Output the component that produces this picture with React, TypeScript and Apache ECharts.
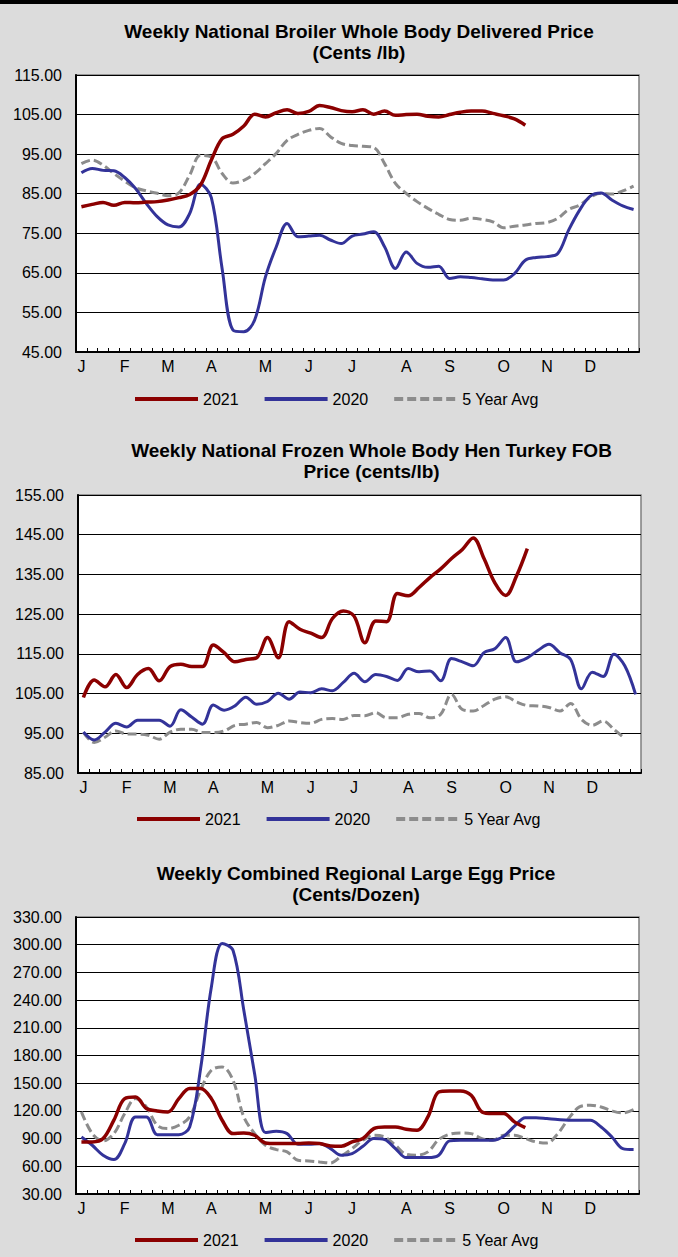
import React, { useEffect, useRef } from 'react';
import * as echarts from 'echarts';

// ---------- data ----------
const weeks: string[] = [
  'W1','W2','W3','W4','W5','W6','W7','W8','W9','W10','W11','W12','W13',
  'W14','W15','W16','W17','W18','W19','W20','W21','W22','W23','W24','W25','W26',
  'W27','W28','W29','W30','W31','W32','W33','W34','W35','W36','W37','W38','W39',
  'W40','W41','W42','W43','W44','W45','W46','W47','W48','W49','W50','W51','W52',
];
const monthLabels = ['J', 'F', 'M', 'A', 'M', 'J', 'J', 'A', 'S', 'O', 'N', 'D'];
const monthStartWeek = [0, 4, 8, 12, 17, 21, 25, 30, 34, 39, 43, 47];
const seriesNames = ['2021', '2020', '5 Year Avg'];

const broiler2021 = [81.7, 82.3, 82.8, 82.1, 82.8, 82.7, 82.9, 83.0, 83.4, 84.0, 84.8, 87.2, 93.5, 98.9, 100.0, 102.1, 105.1, 104.4, 105.5, 106.2, 105.3, 105.8, 107.3, 106.8, 106.0, 105.7, 106.2, 105.1, 105.9, 104.8, 105.0, 105.1, 104.6, 104.4, 105.0, 105.6, 105.9, 105.9, 105.3, 104.7, 103.9, 102.3];
const broiler2020 = [90.3, 91.4, 90.9, 90.8, 89.1, 86.3, 82.5, 79.2, 77.1, 76.6, 80.0, 87.4, 84.0, 66.0, 50.5, 50.1, 53.1, 64.0, 71.6, 77.5, 74.1, 74.3, 74.5, 73.3, 72.4, 74.3, 74.8, 75.4, 71.6, 66.1, 70.3, 67.4, 66.4, 66.7, 63.6, 64.0, 63.8, 63.5, 63.2, 63.2, 64.8, 68.2, 68.9, 69.1, 69.9, 75.8, 80.8, 84.4, 85.2, 83.4, 81.9, 81.0];
const broiler5yr = [92.6, 93.5, 92.2, 90.1, 88.2, 86.5, 85.7, 85.1, 84.5, 85.2, 89.7, 94.7, 94.3, 90.1, 87.7, 88.4, 90.1, 92.6, 95.2, 98.5, 100.0, 101.0, 101.5, 99.4, 97.7, 97.2, 97.0, 96.7, 92.6, 87.6, 85.1, 83.0, 81.3, 79.8, 78.5, 78.3, 78.8, 78.5, 77.9, 76.4, 76.8, 77.1, 77.5, 77.7, 78.8, 81.0, 82.1, 84.1, 85.1, 84.9, 85.7, 86.9];

const turkey2021 = [104.0, 108.4, 106.7, 109.8, 106.5, 109.8, 111.3, 108.2, 111.8, 112.4, 111.8, 111.8, 117.2, 115.3, 113.0, 113.6, 114.0, 119.1, 114.0, 123.1, 121.2, 120.2, 119.1, 123.9, 125.8, 124.5, 117.8, 123.3, 123.1, 130.2, 129.6, 131.7, 134.2, 136.4, 139.0, 141.3, 144.2, 139.0, 132.9, 129.7, 134.6, 141.5];
const turkey2020 = [95.3, 93.3, 95.3, 97.5, 96.6, 98.3, 98.3, 98.3, 96.8, 100.9, 99.1, 97.3, 102.1, 100.8, 101.9, 104.1, 102.3, 103.0, 105.1, 103.6, 105.4, 105.2, 106.2, 105.7, 107.8, 110.1, 108.0, 109.8, 109.3, 108.3, 111.3, 110.5, 110.7, 108.2, 113.8, 113.0, 112.0, 115.3, 116.3, 119.1, 113.0, 114.0, 115.9, 117.4, 115.3, 113.6, 106.2, 110.4, 109.3, 114.9, 112.0, 104.8];
const turkey5yr = [95.2, 92.7, 94.0, 95.6, 94.8, 94.8, 94.5, 93.5, 95.3, 96.0, 96.0, 95.2, 95.2, 95.6, 97.0, 97.3, 97.7, 96.4, 97.0, 98.1, 97.7, 97.5, 98.5, 98.7, 98.5, 99.5, 99.4, 100.2, 98.9, 98.9, 99.8, 100.0, 98.9, 99.8, 104.8, 101.0, 100.6, 102.0, 103.6, 104.2, 102.9, 102.0, 101.9, 101.5, 100.6, 102.5, 98.5, 97.0, 98.1, 96.0, 93.7];

const egg2021 = [86.4, 86.4, 90.0, 110.0, 133.3, 135.1, 122.5, 120.0, 118.9, 133.3, 144.2, 144.2, 133.3, 109.9, 95.4, 96.1, 93.6, 85.3, 84.6, 84.6, 84.6, 85.3, 84.6, 82.1, 81.7, 86.4, 90.0, 100.8, 102.6, 102.6, 100.1, 99.0, 113.5, 140.5, 141.6, 141.6, 136.9, 118.9, 117.1, 117.1, 108.1, 101.9];
const egg2020 = [91.8, 82.8, 72.0, 67.3, 84.6, 113.5, 113.5, 94.3, 94.3, 94.3, 102.6, 165.0, 254.0, 301.2, 294.0, 229.0, 160.0, 96.5, 97.9, 95.4, 83.9, 83.9, 84.6, 79.2, 72.0, 73.8, 81.7, 90.0, 88.9, 79.2, 69.4, 69.4, 69.4, 72.0, 87.5, 88.2, 88.2, 88.2, 88.2, 92.5, 103.4, 112.7, 112.7, 111.7, 110.6, 109.9, 109.9, 109.9, 102.6, 91.8, 79.2, 78.1];
const egg5yr = [118.9, 95.4, 87.5, 95.4, 117.1, 133.3, 124.3, 104.4, 100.8, 104.4, 113.5, 142.3, 164.0, 167.6, 153.2, 113.5, 95.4, 82.8, 78.1, 75.6, 66.5, 65.8, 64.7, 63.6, 70.9, 79.2, 88.2, 93.6, 91.8, 82.8, 73.0, 72.0, 75.6, 88.9, 94.7, 96.1, 95.4, 90.0, 88.2, 93.6, 93.6, 90.0, 86.4, 85.3, 95.4, 111.7, 124.3, 126.1, 124.3, 120.0, 117.8, 121.4];

const broilerTicks = { min: 45, max: 115, interval: 10 };
const turkeyTicks = { min: 85, max: 155, interval: 10 };
const eggTicks = { min: 30, max: 330, interval: 30 };

// ---------- styling ----------
const FONT = 'Arial, "Liberation Sans", Helvetica, sans-serif';
const RED = '#8B0000';
const BLUE = '#333399';
const GRAY = '#8c8c8c';

type Panel = {
  title: string;
  titleX: number;
  titleTop: number;
  grid: { left: number; top: number; width: number; height: number };
  ticks: { min: number; max: number; interval: number };
  data: number[][];
  legendTop: number;
  legendLeft: number;
};

const panels: Panel[] = [
  {
    title: 'Weekly National Broiler Whole Body Delivered Price\n(Cents /lb)',
    titleX: 359,
    titleTop: 20.5,
    grid: { left: 76, top: 75, width: 563, height: 277 },
    ticks: broilerTicks,
    data: [broiler2021, broiler2020, broiler5yr],
    legendTop: 391,
    legendLeft: 133,
  },
  {
    title: 'Weekly National Frozen Whole Body Hen Turkey FOB\nPrice (cents/lb)',
    titleX: 371.5,
    titleTop: 439.5,
    grid: { left: 78, top: 495, width: 563, height: 278 },
    ticks: turkeyTicks,
    data: [turkey2021, turkey2020, turkey5yr],
    legendTop: 811,
    legendLeft: 135,
  },
  {
    title: 'Weekly Combined Regional Large Egg Price\n(Cents/Dozen)',
    titleX: 356,
    titleTop: 862.5,
    grid: { left: 76, top: 917, width: 563, height: 277 },
    ticks: eggTicks,
    data: [egg2021, egg2020, egg5yr],
    legendTop: 1232,
    legendLeft: 133,
  },
];

function buildOption() {
  const grid: any[] = [];
  const xAxis: any[] = [];
  const yAxis: any[] = [];
  const series: any[] = [];
  const legend: any[] = [];
  const graphic: any[] = [
    { type: 'rect', shape: { x: 0, y: 0, width: 678, height: 4 }, style: { fill: '#000' }, z: 10 },
  ];

  panels.forEach((p, i) => {
    grid.push({
      ...p.grid,
      show: true,
      backgroundColor: '#ffffff',
      borderColor: '#7f7f7f',
      borderWidth: 1.5,
    });
    xAxis.push({
      type: 'category',
      gridIndex: i,
      data: weeks,
      boundaryGap: true,
      axisLine: { show: true, lineStyle: { color: '#000', width: 2 } },
      axisTick: { show: true, inside: true, length: 4, interval: 0, lineStyle: { color: '#000', width: 1 } },
      axisLabel: {
        interval: (idx: number) => monthStartWeek.indexOf(idx) >= 0,
        formatter: (_v: string, idx: number) => {
          const m = monthStartWeek.indexOf(idx);
          return m >= 0 ? monthLabels[m] : '';
        },
        margin: 6,
        color: '#000',
        fontSize: 16,
        fontFamily: FONT,
      },
      splitLine: { show: false },
    });
    yAxis.push({
      type: 'value',
      gridIndex: i,
      min: p.ticks.min,
      max: p.ticks.max,
      interval: p.ticks.interval,
      axisLine: { show: true, lineStyle: { color: '#000', width: 2 } },
      axisTick: { show: false },
      axisLabel: {
        formatter: (v: number) => v.toFixed(2),
        margin: 14,
        color: '#000',
        fontSize: 16,
        fontFamily: FONT,
      },
      splitLine: { show: true, lineStyle: { color: '#000', width: 1 } },
    });
    const styles = [
      { color: RED, width: 3.5, type: 'solid', z: 5 },
      { color: BLUE, width: 3, type: 'solid', z: 4 },
      { color: GRAY, width: 3, type: [9, 4], z: 3 },
    ];
    p.data.forEach((d, s) => {
      series.push({
        name: seriesNames[s],
        type: 'line',
        xAxisIndex: i,
        yAxisIndex: i,
        data: d,
        smooth: 0.35,
        symbol: 'none',
        z: styles[s].z,
        itemStyle: { color: styles[s].color },
        lineStyle: { color: styles[s].color, width: styles[s].width, type: styles[s].type },
      });
    });
    legend.push({
      left: p.legendLeft,
      top: p.legendTop,
      padding: 0,
      orient: 'horizontal',
      itemWidth: 63,
      itemHeight: 16,
      itemGap: 24,
      selectedMode: false,
      data: seriesNames,
      itemStyle: { opacity: 0 },
      lineStyle: { width: 4 },
      textStyle: { color: '#000', fontSize: 16, fontFamily: FONT },
    });
    graphic.push({
      type: 'text',
      x: p.titleX,
      y: p.titleTop,
      style: {
        text: p.title,
        textAlign: 'center',
        textVerticalAlign: 'top',
        lineHeight: 21,
        fill: '#000',
        font: `bold 19px ${FONT}`,
      },
    });
  });

  return {
    animation: false,
    backgroundColor: '#dcdcdc',
    grid,
    xAxis,
    yAxis,
    series,
    legend,
    graphic,
  };
}

export default function App() {
  const ref = useRef<HTMLDivElement>(null);
  useEffect(() => {
    if (!ref.current) return;
    const chart = echarts.init(ref.current, undefined, { renderer: 'svg' });
    chart.setOption(buildOption() as any);
    return () => chart.dispose();
  }, []);
  return (
    <div
      ref={ref}
      style={{ position: 'absolute', left: 0, top: 0, width: 678, height: 1257 }}
    />
  );
}
